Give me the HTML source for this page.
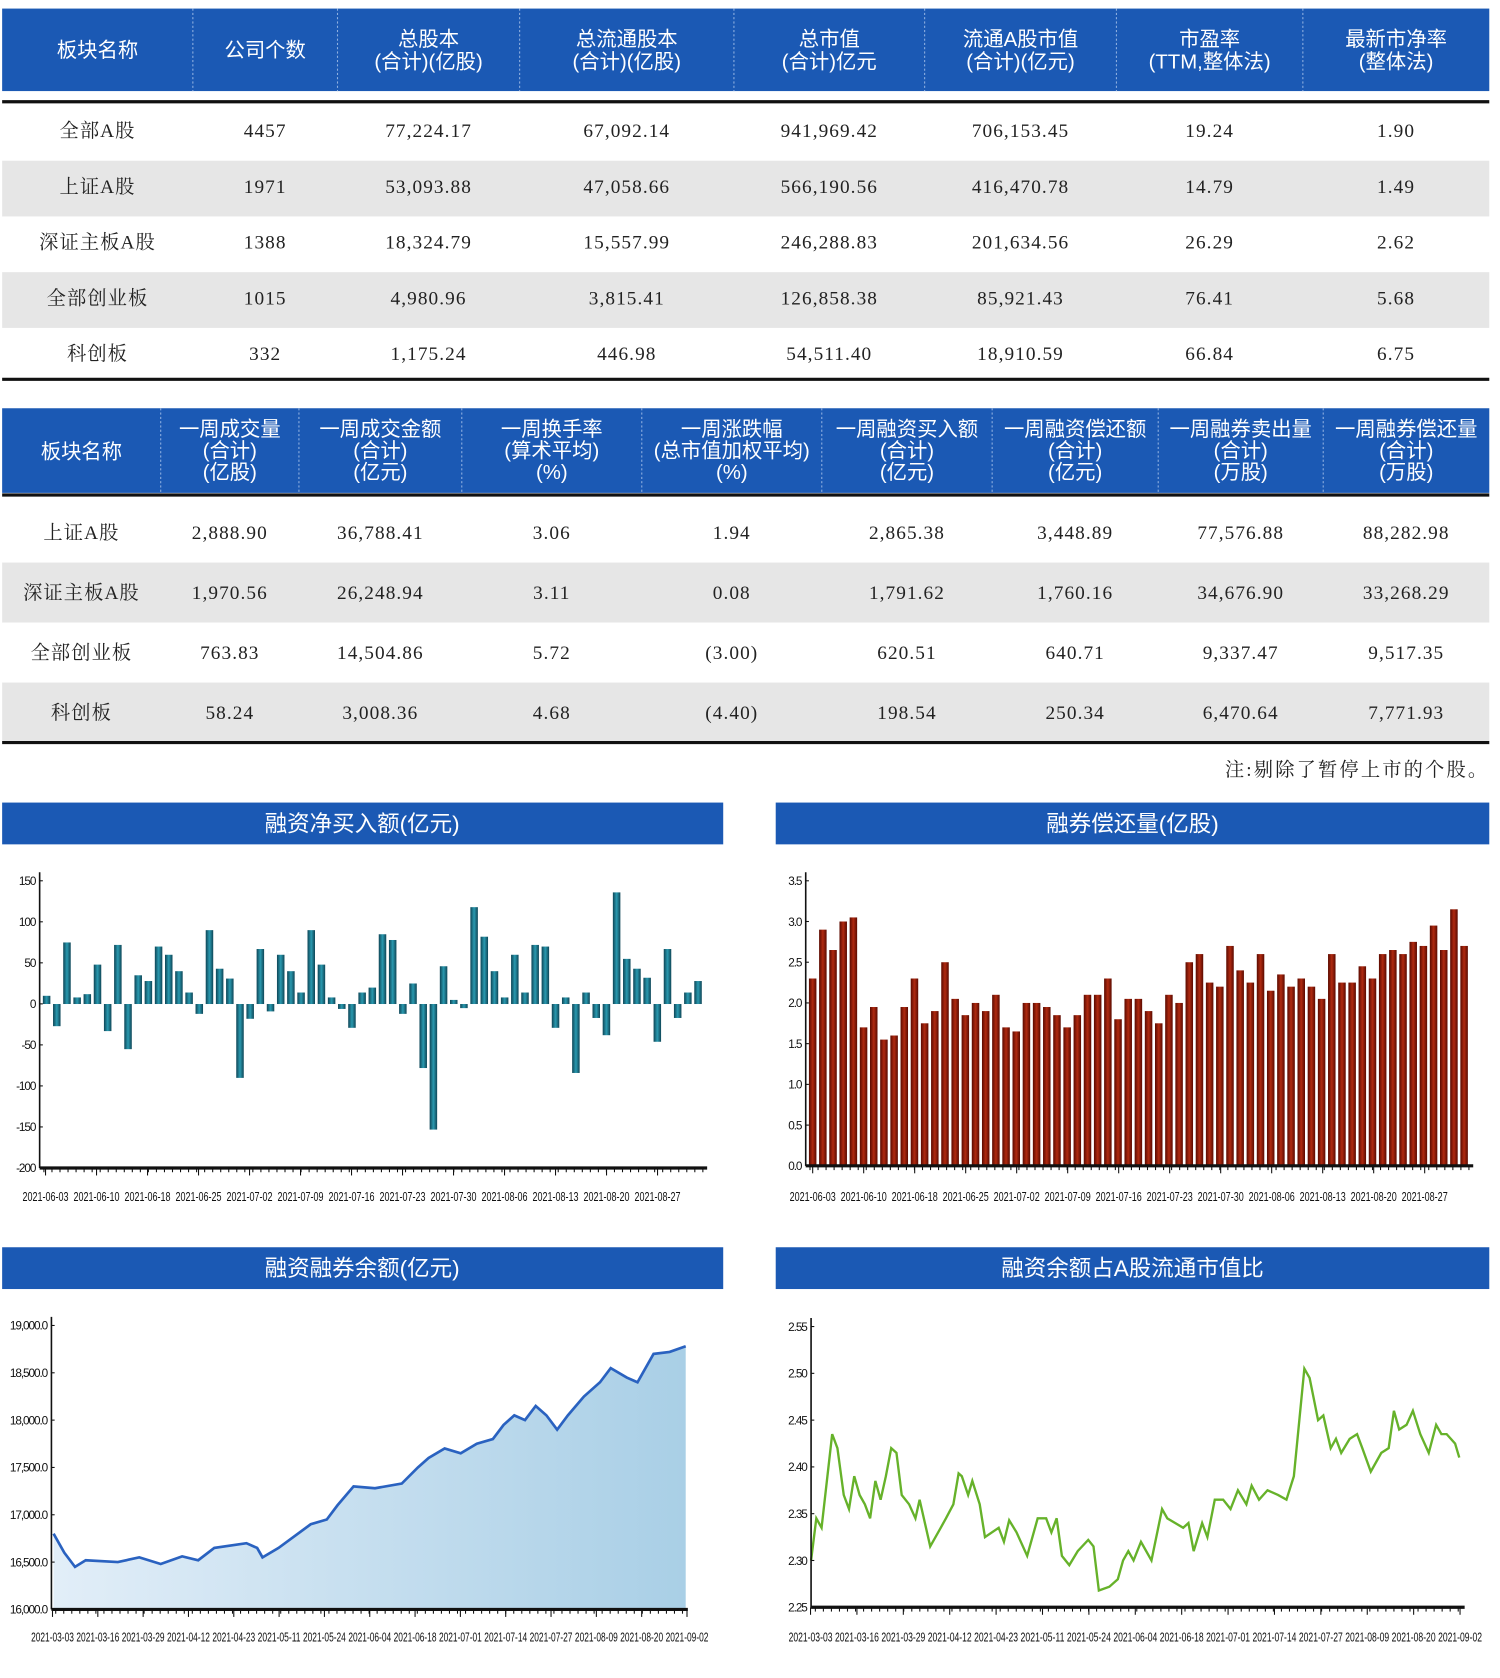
<!DOCTYPE html>
<html><head><meta charset="utf-8"><style>
html,body{margin:0;padding:0;background:#fff;}
svg{display:block;}
.h{fill:#fff;font-family:"Liberation Sans","Noto Sans CJK SC",sans-serif;font-size:19px;text-anchor:middle;}
.d{fill:#222;font-family:"Liberation Serif","Noto Serif CJK SC",serif;font-size:18px;text-anchor:middle;letter-spacing:1px;}
.t{fill:#fff;font-family:"Liberation Sans","Noto Sans CJK SC",sans-serif;font-size:21px;text-anchor:middle;}
.k{fill:#111;font-family:"Liberation Sans",sans-serif;font-size:11px;}
</style></head><body>
<svg id="s" width="1500" height="1678" viewBox="0 0 1400 1566" preserveAspectRatio="none" xmlns="http://www.w3.org/2000/svg"></svg>
<script>
var s=document.getElementById('s'),o='';
function R(x,y,w,h,f,ex){o+='<rect x="'+x+'" y="'+y+'" width="'+w+'" height="'+h+'" fill="'+f+'" '+(ex||'')+'/>';}
function T(x,y,c,t,ex){o+='<text x="'+x+'" y="'+y+'" class="'+c+'" '+(ex||'')+'>'+t+'</text>';}
function L(x1,y1,x2,y2,c,w,ex){o+='<line x1="'+x1+'" y1="'+y1+'" x2="'+x2+'" y2="'+y2+'" stroke="'+c+'" stroke-width="'+w+'" '+(ex||'')+'/>';}
var B='#1b59b4';
var c1=[2,180,315,485,685,863,1042,1216,1390];
R(2,8,1388,77,B);
for(var i=1;i<8;i++)L(c1[i],8,c1[i],85,'#8fb0e0',1,'stroke-dasharray="2,2"');
var h1=[['板块名称'],['公司个数'],['总股本','(合计)(亿股)'],['总流通股本','(合计)(亿股)'],['总市值','(合计)亿元'],['流通A股市值','(合计)(亿元)'],['市盈率','(TTM,整体法)'],['最新市净率','(整体法)']];
h1.forEach(function(h,i){var cx=(c1[i]+c1[i+1])/2;if(h.length==1)T(cx,53,'h',h[0]);else{T(cx,43,'h',h[0]);T(cx,64,'h',h[1]);}});
L(2,95,1390,95,'#111',3);
var d1=[['全部A股','4457','77,224.17','67,092.14','941,969.42','706,153.45','19.24','1.90'],
['上证A股','1971','53,093.88','47,058.66','566,190.56','416,470.78','14.79','1.49'],
['深证主板A股','1388','18,324.79','15,557.99','246,288.83','201,634.56','26.29','2.62'],
['全部创业板','1015','4,980.96','3,815.41','126,858.38','85,921.43','76.41','5.68'],
['科创板','332','1,175.24','446.98','54,511.40','18,910.59','66.84','6.75']];
d1.forEach(function(r,j){var y=98+j*52;if(j%2==1)R(2,y,1388,52,'#e6e6e6');r.forEach(function(v,i){T((c1[i]+c1[i+1])/2,y+30,'d',v);});});
L(2,354,1390,354,'#111',3);
var c2=[2,150,279,431,599,767,926,1081,1235,1390];
R(2,381,1388,79,B);
for(var i=1;i<9;i++)L(c2[i],381,c2[i],460,'#8fb0e0',1,'stroke-dasharray="2,2"');
var h2=[['板块名称'],['一周成交量','(合计)','(亿股)'],['一周成交金额','(合计)','(亿元)'],['一周换手率','(算术平均)','(%)'],['一周涨跌幅','(总市值加权平均)','(%)'],['一周融资买入额','(合计)','(亿元)'],['一周融资偿还额','(合计)','(亿元)'],['一周融券卖出量','(合计)','(万股)'],['一周融券偿还量','(合计)','(万股)']];
h2.forEach(function(h,i){var cx=(c2[i]+c2[i+1])/2;if(h.length==1)T(cx,428,'h',h[0]);else{T(cx,407,'h',h[0]);T(cx,427,'h',h[1]);T(cx,447,'h',h[2]);}});
L(2,462,1390,462,'#111',3);
var d2=[['上证A股','2,888.90','36,788.41','3.06','1.94','2,865.38','3,448.89','77,576.88','88,282.98'],
['深证主板A股','1,970.56','26,248.94','3.11','0.08','1,791.62','1,760.16','34,676.90','33,268.29'],
['全部创业板','763.83','14,504.86','5.72','(3.00)','620.51','640.71','9,337.47','9,517.35'],
['科创板','58.24','3,008.36','4.68','(4.40)','198.54','250.34','6,470.64','7,771.93']];
d2.forEach(function(r,j){var y=469+j*56;if(j%2==1)R(2,y,1388,56,'#e6e6e6');r.forEach(function(v,i){T((c2[i]+c2[i+1])/2,y+34,'d',v);});});
L(2,693,1390,693,'#111',3);
T(1390,724,'d','注:剔除了暂停上市的个股。','style="text-anchor:end;letter-spacing:2px"');
R(2,749,673,39,B);T(338,776,'t','融资净买入额(亿元)');
R(724,749,666,39,B);T(1057,776,'t','融券偿还量(亿股)');
R(2,1164,673,39,B);T(338,1191,'t','融资融券余额(亿元)');
R(724,1164,666,39,B);T(1057,1191,'t','融资余额占A股流通市值比');
var lab1=['2021-06-03','2021-06-10','2021-06-18','2021-06-25','2021-07-02','2021-07-09','2021-07-16','2021-07-23','2021-07-30','2021-08-06','2021-08-13','2021-08-20','2021-08-27'];
var lab2=['2021-03-03','2021-03-16','2021-03-29','2021-04-12','2021-04-23','2021-05-11','2021-05-24','2021-06-04','2021-06-18','2021-07-01','2021-07-14','2021-07-27','2021-08-09','2021-08-20','2021-09-02'];
function axes(ax,y0,y1,x1,ticks,labs,lx0,lstep,ly,lw){
 L(ax,y0-8,ax,y1,'#111',1.5);L(ax,y1,x1,y1,'#111',3);
 var st=(y1-y0)/(ticks.length-1);
 ticks.forEach(function(t,i){var y=y0+i*st;T(ax-4,y+4,'k',t,'style="text-anchor:end;letter-spacing:-1px"');L(ax,y,ax+3,y,'#111',1);});
 for(var x=ax+4;x<x1;x+=7.5)L(x,y1,x,y1+4,'#111',1);
 labs.forEach(function(l,i){var x=lx0+i*lstep;T(x,ly,'k',l,'textLength="'+lw+'" lengthAdjust="spacingAndGlyphs" style="font-size:12px"');L(x+lw/2,y1,x+lw/2,y1+7,'#111',1);});
}
var v1=[10,-27,75,8,12,48,-33,72,-55,35,28,70,60,40,14,-12,90,43,31,-90,-18,67,-9,60,40,14,90,48,8,-6,-29,14,20,85,78,-12,25,-78,-153,46,5,-5,118,82,40,8,60,14,72,70,-29,8,-84,14,-17,-38,136,55,43,32,-46,67,-17,14,28];
var z=937,sc=0.766;
v1.forEach(function(v,i){var x=40+i*9.5,h=Math.abs(v)*sc;R(x,v>0?z-h:z,7,h,'url(#g1)');});
axes(37,822,1090,660,['150','100','50','0','-50','-100','-150','-200'],lab1,21,47.6,1121,43);
var v2=[2.3,2.9,2.65,3.0,3.05,1.7,1.95,1.55,1.6,1.95,2.3,1.75,1.9,2.5,2.05,1.85,2.0,1.9,2.1,1.7,1.65,2.0,2.0,1.95,1.85,1.7,1.85,2.1,2.1,2.3,1.8,2.05,2.05,1.9,1.75,2.1,2.0,2.5,2.6,2.25,2.2,2.7,2.4,2.25,2.6,2.15,2.35,2.2,2.3,2.2,2.05,2.6,2.25,2.25,2.45,2.3,2.6,2.65,2.6,2.75,2.7,2.95,2.65,3.15,2.7];
v2.forEach(function(v,i){var x=755+i*9.5,h=v*76;R(x,1088-h,7,h,'url(#g2)');});
axes(752,822,1088,1375,['3.5','3.0','2.5','2.0','1.5','1.0','0.5','0.0'],lab1,737,47.6,1121,43);
var p3=[[50,16800],[60,16600],[70,16450],[80,16520],[110,16500],[130,16550],[150,16480],[170,16560],[185,16520],[200,16650],[230,16700],[240,16650],[245,16550],[260,16650],[290,16900],[305,16950],[315,17100],[330,17300],[350,17280],[375,17330],[390,17500],[400,17600],[415,17700],[430,17650],[445,17750],[460,17800],[470,17950],[480,18050],[490,18000],[500,18150],[510,18050],[520,17900],[530,18050],[545,18250],[560,18400],[570,18550],[585,18450],[595,18400],[610,18700],[625,18720],[640,18780]];
function py3(v){return 1502-(v-16000)/3000*265;}
var pts=p3.map(function(p){return p[0]+','+py3(p[1]).toFixed(1);}).join(' ');
o+='<polygon points="50,1502 '+pts+' 640,1502" fill="url(#g3)"/>';
o+='<polyline points="'+pts+'" fill="none" stroke="#2a62c0" stroke-width="2.5"/>';
axes(48,1237,1502,642,['19,000.0','18,500.0','18,000.0','17,500.0','17,000.0','16,500.0','16,000.0'],lab2,29,42.3,1532,40);
var p4=[[757,2.30],[762,2.345],[767,2.335],[777,2.435],[782,2.42],[788,2.37],[793,2.355],[798,2.39],[803,2.37],[808,2.36],[813,2.345],[818,2.385],[823,2.365],[828,2.39],[833,2.42],[838,2.415],[843,2.37],[850,2.36],[856,2.345],[860,2.365],[870,2.315],[880,2.335],[885,2.345],[892,2.36],[897,2.393],[900,2.39],[906,2.37],[910,2.385],[917,2.36],[922,2.325],[935,2.335],[940,2.32],[945,2.343],[952,2.33],[962,2.305],[972,2.345],[980,2.345],[985,2.33],[990,2.345],[995,2.305],[1002,2.295],[1010,2.31],[1020,2.322],[1025,2.315],[1030,2.268],[1040,2.272],[1048,2.28],[1053,2.30],[1058,2.31],[1063,2.30],[1070,2.32],[1080,2.30],[1090,2.355],[1095,2.345],[1110,2.335],[1115,2.34],[1120,2.31],[1128,2.34],[1133,2.325],[1140,2.365],[1148,2.365],[1155,2.355],[1162,2.375],[1170,2.36],[1175,2.38],[1182,2.365],[1190,2.375],[1200,2.37],[1208,2.365],[1215,2.39],[1225,2.505],[1230,2.495],[1238,2.45],[1243,2.455],[1250,2.42],[1255,2.43],[1260,2.415],[1268,2.43],[1275,2.435],[1280,2.42],[1288,2.395],[1298,2.415],[1305,2.42],[1310,2.46],[1315,2.44],[1322,2.445],[1328,2.46],[1335,2.435],[1343,2.415],[1350,2.445],[1355,2.435],[1360,2.435],[1368,2.425],[1372,2.41]];
function py4(v){return 1500-(v-2.25)/0.30*262;}
var pts4=p4.map(function(p){var x=757+(p[0]-757)*(1362-757)/(1372-757);return x.toFixed(1)+','+py4(p[1]).toFixed(1);}).join(' ');
o+='<polyline points="'+pts4+'" fill="none" stroke="#66b22a" stroke-width="2.2"/>';
axes(757,1238,1500,1367,['2.55','2.50','2.45','2.40','2.35','2.30','2.25'],lab2,736,43.3,1532,41);
s.innerHTML='<defs><linearGradient id="g1" x1="0" x2="1"><stop offset="0" stop-color="#0e4556"/><stop offset="0.5" stop-color="#2a9ab0"/><stop offset="1" stop-color="#0e4556"/></linearGradient>'+
'<linearGradient id="g2" x1="0" x2="1"><stop offset="0" stop-color="#5a0a00"/><stop offset="0.5" stop-color="#b02a10"/><stop offset="1" stop-color="#5a0a00"/></linearGradient>'+
'<linearGradient id="g3" x1="0" x2="1"><stop offset="0" stop-color="#e2eef8"/><stop offset="1" stop-color="#a9cfe6"/></linearGradient></defs>'+o;
</script>
</body></html>
